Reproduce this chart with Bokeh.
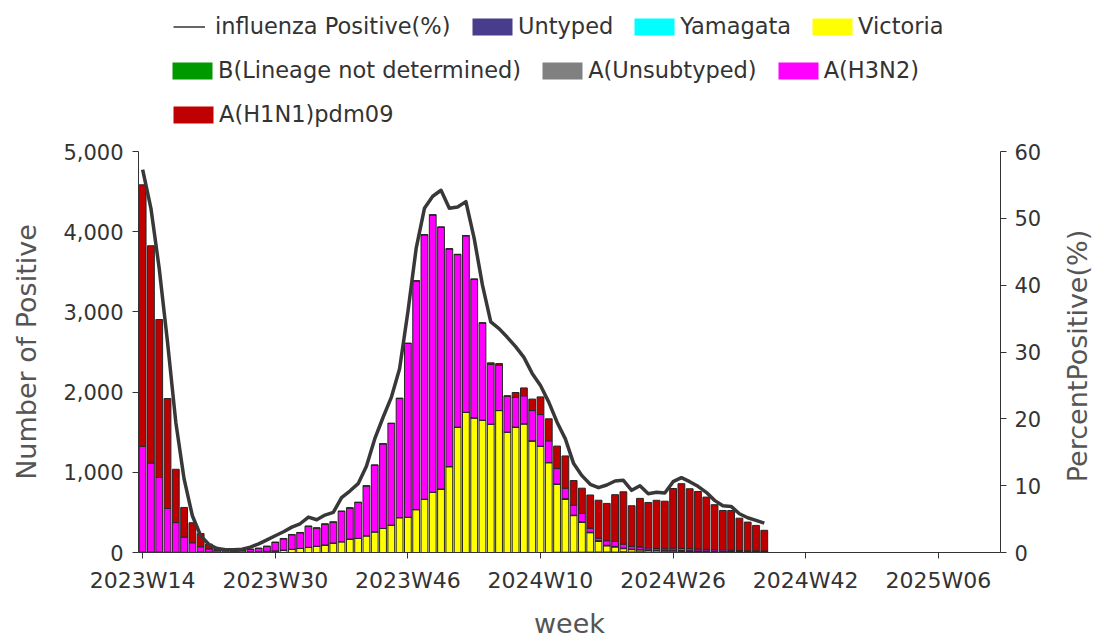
import math
from bokeh.plotting import figure
from bokeh.layouts import column, row
from bokeh.models import (Range1d, LinearAxis, FixedTicker, NumeralTickFormatter,
                          Legend, LegendItem, ColumnDataSource, Label)
from bokeh.embed import file_html
from bokeh.resources import INLINE

# ---------------- data ----------------
weeks = ([f"2023W{w:02d}" for w in range(14, 53)] +
         [f"2024W{w:02d}" for w in range(1, 53)] +
         [f"2025W{w:02d}" for w in range(1, 14)])
tick_weeks = ["2023W14", "2023W30", "2023W46", "2024W10", "2024W26", "2024W42", "2025W06"]

untyped = [0, 0, 0, 0, 0, 0, 0, 0, 0, 0,
           0, 0, 0, 0, 0, 0, 0, 0, 0, 0,
           0, 0, 0, 0, 0, 0, 0, 0, 0, 0,
           0, 0, 0, 0, 0, 0, 0, 0, 0, 0,
           0, 0, 0, 0, 0, 0, 0, 0, 0, 0,
           3, 3, 4, 4, 5, 6, 6, 5, 8, 6,
           8, 6, 5, 6, 8, 6, 5, 4, 4, 3,
           3, 3, 2, 2, 2, 2]
yamagata = [0] * 76
victoria = [0, 0, 0, 0, 0, 0, 0, 5, 5, 5,
            5, 5, 5, 8, 10, 15, 20, 30, 40, 50,
            65, 78, 94, 119, 135, 168, 176, 209, 258, 300,
            341, 435, 440, 535, 665, 751, 792, 1071, 1564, 1749,
            1679, 1650, 1600, 1770, 1502, 1564, 1605, 1392, 1326, 1121,
            846, 661, 456, 373, 242, 135, 78, 65, 40, 30,
            25, 20, 18, 15, 15, 12, 12, 10, 10, 8,
            8, 6, 6, 5, 5, 5]
b_nd = [0, 0, 0, 0, 0, 0, 0, 0, 0, 0,
        0, 0, 0, 0, 0, 0, 0, 0, 0, 0,
        0, 0, 0, 0, 0, 0, 0, 0, 0, 0,
        0, 0, 0, 0, 0, 0, 0, 0, 0, 0,
        0, 0, 0, 0, 0, 0, 0, 0, 0, 0,
        2, 2, 2, 2, 2, 2, 2, 2, 2, 2,
        2, 2, 2, 2, 2, 2, 2, 2, 2, 2,
        1, 1, 1, 1, 1, 1]
a_unsub = [5, 5, 5, 5, 3, 2, 1, 1, 0, 0,
           0, 0, 0, 0, 0, 0, 0, 0, 0, 0,
           0, 0, 0, 0, 0, 0, 0, 0, 0, 0,
           0, 0, 0, 0, 0, 0, 0, 0, 0, 0,
           0, 0, 0, 0, 0, 0, 0, 0, 0, 0,
           4, 4, 4, 4, 4, 4, 4, 4, 4, 4,
           4, 4, 4, 4, 4, 4, 4, 4, 4, 4,
           3, 3, 3, 3, 3, 3]
h3n2 = [1320, 1110, 930, 545, 370, 190, 120, 65, 40, 25,
        20, 15, 20, 30, 40, 60, 105, 140, 180, 195,
        260, 225, 258, 258, 377, 385, 447, 619, 829, 1053,
        1267, 1485, 2166, 2850, 3295, 3456, 3263, 2713, 2150, 2199,
        1727, 1210, 745, 566, 447, 369, 349, 378, 394, 271,
        192, 131, 123, 103, 50, 33, 57, 62, 50, 35,
        30, 25, 22, 20, 25, 28, 25, 22, 20, 18,
        18, 15, 12, 10, 10, 8]
h1n1 = [3260, 2710, 1970, 1370, 665, 370, 250, 165, 60, 25,
        10, 8, 5, 5, 5, 5, 5, 5, 5, 5,
        5, 5, 5, 5, 5, 5, 5, 5, 5, 5,
        5, 5, 5, 5, 5, 5, 5, 5, 5, 5,
        5, 5, 20, 20, 5, 62, 98, 143, 220, 275,
        280, 403, 308, 316, 414, 472, 465, 583, 653, 506,
        606, 567, 600, 593, 744, 806, 747, 719, 651, 561,
        491, 496, 404, 358, 317, 258]
pct_positive = [57.3, 51.5, 42.5, 31.5, 19.5, 11.0, 5.5, 2.5, 1.2, 0.6,
                0.4, 0.4, 0.5, 0.8, 1.3, 1.9, 2.5, 3.1, 3.8, 4.3,
                5.3, 4.9, 5.6, 6.0, 8.2, 9.2, 10.3, 12.9, 17.0, 20.2,
                23.2, 27.5, 36.0, 45.5, 51.5, 53.3, 54.2, 51.5, 51.7, 52.5,
                47.0, 40.0, 34.5, 33.5, 32.2, 30.8, 29.2, 26.8, 25.0, 22.5,
                19.5, 17.0, 13.3, 11.5, 10.2, 9.7, 10.1, 10.7, 10.8, 9.3,
                10.0, 8.8, 9.0, 8.9, 10.6, 11.2, 10.6, 9.9, 9.0, 7.8,
                7.0, 6.9, 5.8, 5.2, 4.8, 4.4]

series_names = ["Untyped", "Yamagata", "Victoria", "B(Lineage not determined)",
                "A(Unsubtyped)", "A(H3N2)", "A(H1N1)pdm09"]
series_colors = ["#483C8C", "#00FFFF", "#FFFF00", "#009900",
                 "#808080", "#FF00FF", "#C00000"]
series_keys = ["untyped", "yamagata", "victoria", "b_nd", "a_unsub", "h3n2", "h1n1"]

n = len(h1n1)
xpos = [weeks.index(w) for w in weeks[:n]]
src = ColumnDataSource(dict(x=xpos, week=weeks[:n], untyped=untyped, yamagata=yamagata,
                            victoria=victoria, b_nd=b_nd, a_unsub=a_unsub,
                            h3n2=h3n2, h1n1=h1n1, pct=pct_positive))

FONT = "DejaVu Sans"
W = 1096
LEG_H = 139
MAIN_H = 641 - LEG_H
MAIN_W = 1045

# ---------------- legend strip ----------------
lf = figure(width=W, height=LEG_H, output_backend="svg", toolbar_location=None,
            x_range=Range1d(0, 1), y_range=Range1d(0, 1),
            x_axis_type=None, y_axis_type=None, min_border=0,
            min_border_left=138, min_border_right=W - 1000)
lf.outline_line_color = None
lf.xgrid.visible = False
lf.ygrid.visible = False

line_proxy = lf.line(x="x", y="pct", source=src, line_color="#666666", line_width=2,
                     visible=False)
proxies = {}
for key, name, col in zip(series_keys, series_names, series_colors):
    proxies[name] = lf.vbar(x="x", top=key, source=src, width=0.8, fill_color=col,
                            line_alpha=0, visible=False)

def add_legend(items, vx, vy, glyph_width, standoff):
    lg = Legend(items=[LegendItem(label=t, renderers=[r]) for t, r in items],
                orientation="horizontal", location=(vx, vy),
                background_fill_alpha=0, border_line_alpha=0, padding=0, margin=0,
                spacing=16, label_standoff=standoff, glyph_width=glyph_width,
                glyph_height=21, label_text_font=FONT, label_text_font_size="22.5px",
                label_text_color="#333333", label_height=26, inactive_fill_alpha=0)
    lf.add_layout(lg, "center")

# row 1
add_legend([("influenza Positive(%)", line_proxy)], 35, LEG_H - 39, 32, 10)
add_legend([("Untyped", proxies["Untyped"]), ("Yamagata", proxies["Yamagata"]),
            ("Victoria", proxies["Victoria"])], 329, LEG_H - 39, 50, 1)
# row 2
add_legend([("B(Lineage not determined)", proxies["B(Lineage not determined)"]),
            ("A(Unsubtyped)", proxies["A(Unsubtyped)"]), ("A(H3N2)", proxies["A(H3N2)"])],
           29, LEG_H - 83, 50, 1)
# row 3
add_legend([("A(H1N1)pdm09", proxies["A(H1N1)pdm09"])], 30, LEG_H - 127, 50, 1)

# ---------------- main chart ----------------
p = figure(width=MAIN_W, height=MAIN_H, output_backend="svg", toolbar_location=None,
           x_range=Range1d(-0.5, len(weeks) - 0.5), y_range=Range1d(0, 5000),
           min_border_left=138, min_border_right=MAIN_W - 1000, min_border_top=151 - LEG_H,
           min_border_bottom=MAIN_H - (557 - LEG_H))
p.extra_y_ranges = {"pct": Range1d(0, 60)}
p.outline_line_color = None
p.xgrid.visible = False
p.ygrid.visible = False

p.vbar_stack(series_keys, x="x", width=0.82, source=src,
             fill_color=series_colors, line_color="#262626", line_width=1)
p.line("x", "pct", source=src, y_range_name="pct", line_color="#383838",
       line_width=3.5, line_join="round")


def style_axis(ax):
    ax.axis_line_color = "#333333"
    ax.major_tick_line_color = "#333333"
    ax.minor_tick_line_color = None
    ax.major_tick_out = 6
    ax.major_tick_in = 0
    ax.major_label_text_font = FONT
    ax.major_label_text_font_size = "21px"
    ax.major_label_text_color = "#333333"
    ax.axis_label_text_font = FONT
    ax.axis_label_text_font_size = "27px"
    ax.axis_label_text_font_style = "normal"
    ax.axis_label_text_color = "#555555"


xa = p.xaxis[0]
style_axis(xa)
xa.major_label_text_font_size = "22px"
tick_pos = [weeks.index(w) for w in tick_weeks]
xa.ticker = FixedTicker(ticks=tick_pos)
xa.major_label_overrides = {t: w for t, w in zip(tick_pos, tick_weeks)}
xa.axis_label = "week"
xa.major_label_standoff = 9
xa.axis_label_standoff = 12

ya = p.yaxis[0]
style_axis(ya)
ya.ticker = FixedTicker(ticks=[0, 1000, 2000, 3000, 4000, 5000])
ya.formatter = NumeralTickFormatter(format="0,0")
ya.axis_label = "Number of Positive"
ya.major_label_standoff = 9
ya.axis_label_standoff = 18

ra = LinearAxis(y_range_name="pct", ticker=FixedTicker(ticks=[0, 10, 20, 30, 40, 50, 60]))
style_axis(ra)
ra.major_label_standoff = 8
p.add_layout(ra, "right")

# ---------------- right axis title strip ----------------
tf = figure(width=W - MAIN_W, height=MAIN_H, output_backend="svg", toolbar_location=None,
            x_range=Range1d(0, 1), y_range=Range1d(0, 1),
            x_axis_type=None, y_axis_type=None, min_border=0,
            min_border_top=151 - LEG_H, min_border_bottom=MAIN_H - (557 - LEG_H))
tf.outline_line_color = None
tf.xgrid.visible = False
tf.ygrid.visible = False
tf.add_layout(Label(x=0.62, y=0.49, text="PercentPositive(%)", angle=math.pi / 2,
                    text_align="center", text_baseline="middle", text_font=FONT,
                    text_font_size="27px", text_color="#555555"))

layout = column(lf, row(p, tf, spacing=0), spacing=0)
open("out.html", "w").write(file_html(layout, INLINE))
